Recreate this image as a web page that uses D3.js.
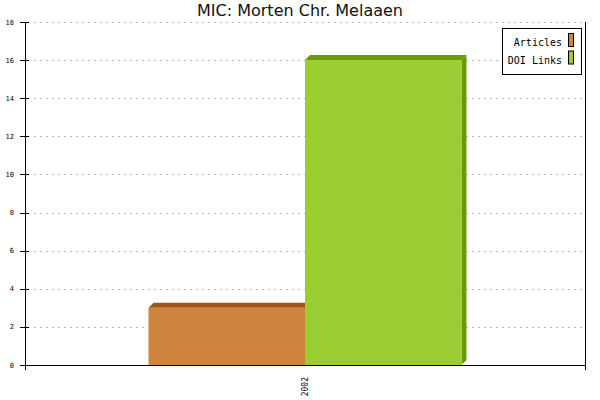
<!DOCTYPE html>
<html><head><meta charset="utf-8">
<script src="https://cdn.jsdelivr.net/npm/d3@7"></script>
<style>body{margin:0;background:#fff}</style>
</head><body>
<svg id="c" width="600" height="400"></svg>
<script>
const title = "MIC: Morten Chr. Melaaen";
const years = ["2002"];
const seriesNames = ["Articles", "DOI Links"];
const articles = [3];
const doiLinks = [16];
const yTicks = [0,2,4,6,8,10,12,14,16,18];
const frontColors = ["#CD853F", "#9ACD32"];
const darkColors = ["#A0561A", "#669C00"];

const svg = d3.select("#c");
const L = 25, R = 585, T = 22, B = 365, D = 5;
const y = d3.scaleLinear().domain([0, 18]).range([B, T]);
const x0 = d3.scaleBand().domain(years).range([L, R]);
const x1 = d3.scaleBand().domain(seriesNames).range([0, x0.bandwidth()]).paddingInner(0).paddingOuter(0.789);

// grid
svg.append("g").selectAll("line").data(yTicks.filter(t => t > 0)).join("line")
  .attr("x1", L + 3).attr("x2", R - 2)
  .attr("y1", d => Math.round(y(d)) + 0.5).attr("y2", d => Math.round(y(d)) + 0.5)
  .attr("stroke", "#bbb").attr("stroke-dasharray", "2,4");

// title
svg.append("text").attr("x", 300).attr("y", 16).attr("text-anchor", "middle")
  .attr("font-family", "DejaVu Sans").attr("font-size", 16).attr("fill", "#111").text(title);

// bars
const data = [];
years.forEach((yr, i) => {
  data.push({yr, s: seriesNames[0], v: articles[i], k: 0});
  data.push({yr, s: seriesNames[1], v: doiLinks[i], k: 1});
});
const g = svg.append("g");
data.forEach(d => {
  const xa = x0(d.yr) + x1(d.s), xb = xa + x1.bandwidth();
  const yt = y(d.v), yb = y(0);
  g.append("polygon").attr("points", [[xa,yt],[xa+D,yt-D],[xb+D,yt-D],[xb,yt]].join(" ")).attr("fill", darkColors[d.k]);
  g.append("polygon").attr("points", [[xb,yt],[xb+D,yt-D],[xb+D,yb-D],[xb,yb]].join(" ")).attr("fill", darkColors[d.k]);
  g.append("rect").attr("x", xa).attr("y", yt).attr("width", xb - xa).attr("height", yb - yt).attr("fill", frontColors[d.k]);
});

// y axis
const yAxis = svg.append("g").attr("font-family", "DejaVu Sans Mono").attr("font-size", 7);
yAxis.append("line").attr("x1", L + 0.5).attr("x2", L + 0.5).attr("y1", T).attr("y2", B + 5).attr("stroke", "#000");
yAxis.selectAll(".t").data(yTicks).join("line")
  .attr("x1", L - 5).attr("x2", d => d === 0 ? L : L + 4)
  .attr("y1", d => Math.round(y(d)) + 0.5).attr("y2", d => Math.round(y(d)) + 0.5).attr("stroke", "#000");
yAxis.selectAll("text").data(yTicks).join("text")
  .attr("x", 14).attr("y", d => y(d) + 2.5).attr("text-anchor", "end").attr("fill", "#000").text(d => d);

// x axis
svg.append("line").attr("x1", L - 5).attr("x2", R).attr("y1", B + 0.5).attr("y2", B + 0.5).attr("stroke", "#000");
svg.append("line").attr("x1", R + 0.5).attr("x2", R + 0.5).attr("y1", T).attr("y2", B + 5).attr("stroke", "#000");
years.forEach(yr => {
  const cx = x0(yr) + x0.bandwidth() / 2;
  svg.append("text").attr("transform", `translate(${cx + 3},377) rotate(-90)`)
    .attr("text-anchor", "end").attr("font-family", "DejaVu Sans Mono").attr("font-size", 8).attr("fill", "#000").text(yr);
});

// legend
const lg = svg.append("g");
lg.append("rect").attr("x", 502.5).attr("y", 28.5).attr("width", 79).attr("height", 46).attr("fill", "#fff").attr("stroke", "#000");
seriesNames.forEach((s, i) => {
  const yy = 33 + i * 17.5;
  lg.append("rect").attr("x", 568.5).attr("y", yy + 0.5).attr("width", 5).attr("height", 13).attr("fill", frontColors[i]).attr("stroke", "#000");
  lg.append("text").attr("x", 562).attr("y", yy + 13).attr("text-anchor", "end")
    .attr("font-family", "DejaVu Sans Mono").attr("font-size", 10).attr("fill", "#000").text(s);
});
</script>
</body></html>
